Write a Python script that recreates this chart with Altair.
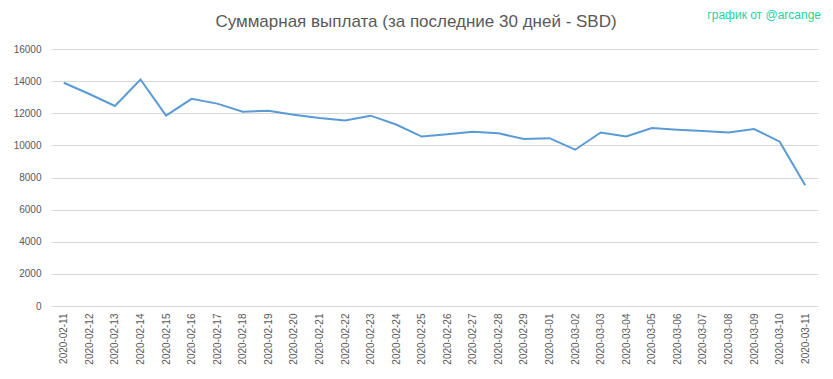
import altair as alt
import pandas as pd

dates = [
    "2020-02-11", "2020-02-12", "2020-02-13", "2020-02-14", "2020-02-15",
    "2020-02-16", "2020-02-17", "2020-02-18", "2020-02-19", "2020-02-20",
    "2020-02-21", "2020-02-22", "2020-02-23", "2020-02-24", "2020-02-25",
    "2020-02-26", "2020-02-27", "2020-02-28", "2020-02-29", "2020-03-01",
    "2020-03-02", "2020-03-03", "2020-03-04", "2020-03-05", "2020-03-06",
    "2020-03-07", "2020-03-08", "2020-03-09", "2020-03-10", "2020-03-11",
]
payout = [
    13900, 13200, 12450, 14100, 11850,
    12900, 12600, 12100, 12150, 11900,
    11700, 11550, 11850, 11300, 10550,
    10700, 10850, 10750, 10400, 10450,
    9730, 10800, 10550, 11080, 10980,
    10900, 10800, 11020, 10230, 7520,
]
y_ticks = [0, 2000, 4000, 6000, 8000, 10000, 12000, 14000, 16000]
title_text = "Суммарная выплата (за последние 30 дней - SBD)"
credit_text = "график от @arcange"

df = pd.DataFrame({"date": dates, "value": payout})

FONT = "Liberation Sans"
GRAY = "#595959"

line = alt.Chart(df).mark_line(color="#5B9BD5", strokeWidth=2).encode(
    x=alt.X(
        "date:O",
        sort=dates,
        title=None,
        scale=alt.Scale(paddingInner=0, paddingOuter=0),
        axis=alt.Axis(
            labelAngle=-90,
            labelFontSize=10,
            labelColor=GRAY,
            labelFont=FONT,
            labelPadding=7,
            ticks=False,
            domain=False,
            grid=False,
        ),
    ),
    y=alt.Y(
        "value:Q",
        title=None,
        scale=alt.Scale(domain=[0, 16000], nice=False),
        axis=alt.Axis(
            values=y_ticks,
            format="d",
            labelFontSize=10,
            labelColor=GRAY,
            labelFont=FONT,
            labelPadding=10,
            ticks=False,
            domain=False,
            gridColor="#D9D9D9",
            gridWidth=1,
        ),
    ),
)

title = alt.Chart(pd.DataFrame({"t": [title_text]})).mark_text(
    align="center", baseline="middle", fontSize=17, font=FONT, color=GRAY
).encode(x=alt.value(365), y=alt.value(-27), text="t:N")

credit = alt.Chart(pd.DataFrame({"t": [credit_text]})).mark_text(
    align="right", baseline="middle", fontSize=12, font=FONT, color="#1ED3A0"
).encode(x=alt.value(770), y=alt.value(-34), text="t:N")

chart = (
    alt.layer(line, title, credit)
    .properties(
        width=767,
        height=257,
        padding={"left": 43, "top": 41, "right": 7, "bottom": 65},
        autosize=alt.AutoSizeParams(type="none"),
    )
    .configure_view(stroke=None)
)

chart.save("out.html", embed_options={"renderer": "svg", "actions": False})
